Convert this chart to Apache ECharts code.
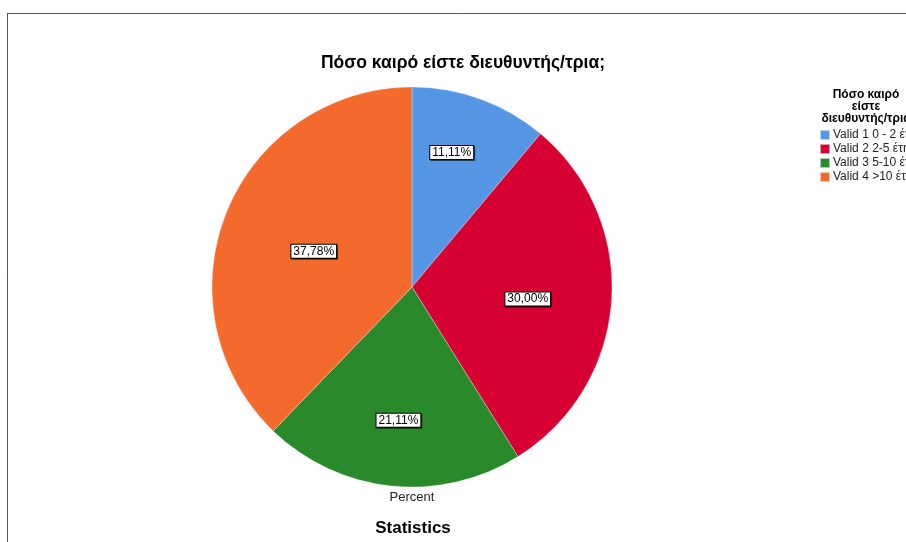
<!DOCTYPE html>
<html>
<head>
<meta charset="utf-8">
<script src="https://cdn.jsdelivr.net/npm/echarts@6/dist/echarts.min.js"></script>
<style>html,body{margin:0;padding:0;background:#fff;}#c{width:906px;height:542px;}</style>
</head>
<body>
<div id="c"></div>
<script>
const categories = ['Valid 1 0 - 2 έτη', 'Valid 2 2-5 έτη', 'Valid 3 5-10 έτη', 'Valid 4 >10 έτη'];
const percents = [11.11, 30.00, 21.11, 37.78];
const colors = ['#5596e5', '#d60032', '#2a8a2b', '#f36a2c'];
const titleText = 'Πόσο καιρό είστε διευθυντής/τρια;';
const legendTitle = 'Πόσο καιρό\nείστε\nδιευθυντής/τρια';
const axisLabel = 'Percent';
const footerText = 'Statistics';

// label placement tweaks (fraction of radius, angle shift in degrees)
const labelRadius = [0.72, 0.58, 0.65, 0.53];
const labelAngleShift = [-4, 0, 0, 0];

const chart = echarts.init(document.getElementById('c'), null, {renderer: 'canvas'});
const CX = 412, CY = 287, R = 200;
const FONT = 'Liberation Sans, Arial, sans-serif';

chart.setOption({
  animation: false,
  backgroundColor: '#fff',
  title: {
    text: titleText,
    left: 458, top: 49, textAlign: 'center',
    textStyle: {fontFamily: FONT, fontSize: 17.5, fontWeight: 'bold', color: '#000'}
  },
  legend: {
    orient: 'vertical',
    left: 819, top: 129,
    padding: 0,
    itemWidth: 10, itemHeight: 10, itemGap: 2,
    icon: 'rect',
    data: categories,
    textStyle: {fontFamily: FONT, fontSize: 12, color: '#222', padding: [0,0,0,-2]}
  },
  graphic: [
    {type: 'line', shape: {x1: 7, y1: 13.5, x2: 906, y2: 13.5}, style: {stroke: '#555', lineWidth: 1}},
    {type: 'line', shape: {x1: 7.5, y1: 13, x2: 7.5, y2: 542}, style: {stroke: '#555', lineWidth: 1}},
    {type: 'text', x: 866, y: 89, style: {text: legendTitle, textAlign: 'center', font: 'bold 12px ' + FONT, fill: '#000', lineHeight: 12}},
    {type: 'text', x: 412, y: 491, style: {text: axisLabel, textAlign: 'center', font: '13px ' + FONT, fill: '#222'}},
    {type: 'text', x: 413, y: 520, style: {text: footerText, textAlign: 'center', font: 'bold 17px ' + FONT, fill: '#000'}}
  ],
  series: [{
    type: 'pie',
    center: [CX, CY],
    radius: [0, R],
    startAngle: 90,
    clockwise: true,
    avoidLabelOverlap: false,
    data: categories.map((n, i) => ({name: n, value: percents[i], itemStyle: {color: colors[i]}})),
    itemStyle: {borderColor: 'rgba(255,255,255,0.6)', borderWidth: 0.5},
    label: {
      show: true,
      position: 'inside',
      formatter: p => p.value.toFixed(2).replace('.', ',') + '%',
      fontFamily: FONT, fontSize: 12, color: '#000',
      backgroundColor: '#fff', borderColor: '#000', borderWidth: 1,
      padding: [1, 2, 0, 2],
      shadowColor: 'rgba(0,0,0,0.6)', shadowOffsetX: 1, shadowOffsetY: 1, shadowBlur: 0
    },
    labelLine: {show: false},
    emphasis: {disabled: true},
    labelLayout: function (params) {
      const i = params.dataIndex;
      const r = params.labelRect;
      const lx = r.x + r.width / 2, ly = r.y + r.height / 2;
      const ang = Math.atan2(ly - CY, lx - CX) + labelAngleShift[i] * Math.PI / 180;
      const d = labelRadius[i] * R;
      return {x: CX + Math.cos(ang) * d, y: CY + Math.sin(ang) * d + 4, align: 'center', verticalAlign: 'middle'};
    }
  }]
});
</script>
</body>
</html>
